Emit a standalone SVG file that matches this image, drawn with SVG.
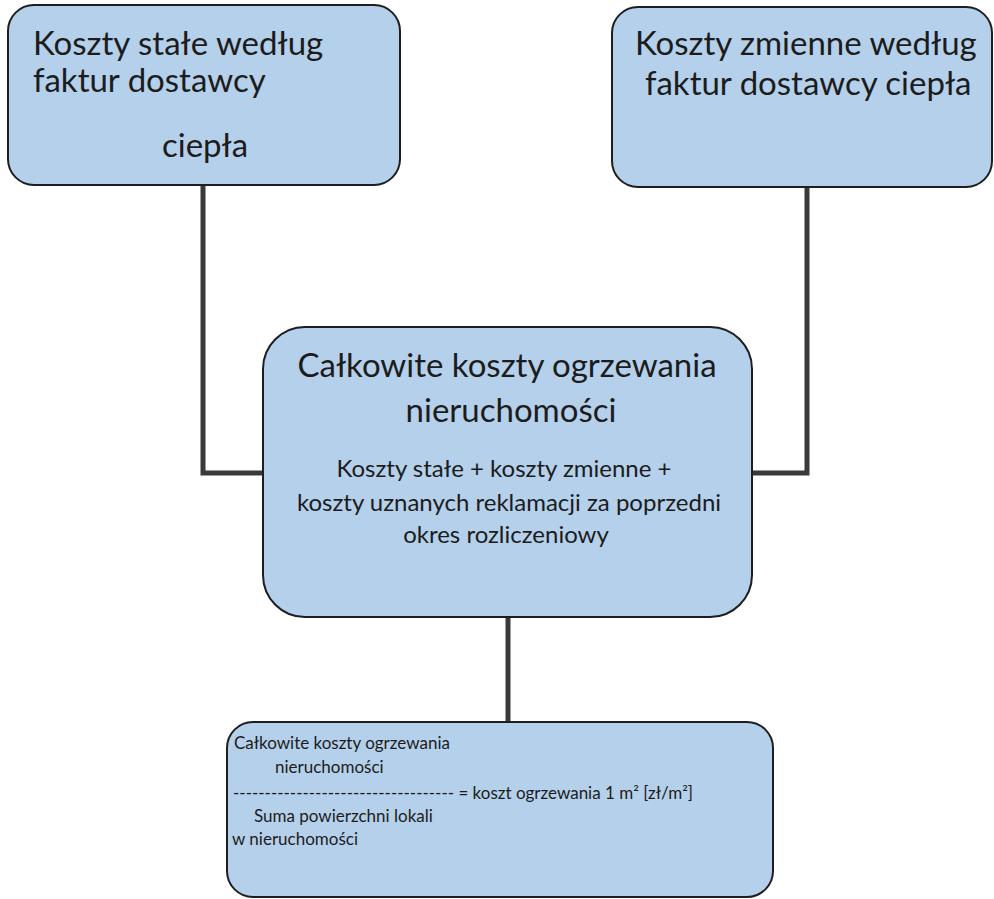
<svg xmlns="http://www.w3.org/2000/svg" width="994" height="899" viewBox="0 0 994 899">
<style>
.box{fill:#b5d0ea;stroke:#1e1e1e;stroke-width:2}
.conn{fill:none;stroke:#3a3a3a;stroke-width:5;stroke-linejoin:miter}
text{font-family:Lato,"Open Sans","Liberation Sans",sans-serif;fill:#1c1c1c}
.big{font-size:33px}
.title{font-size:33px}
.sub{font-size:24px}
.small{font-size:17px}
</style>
<rect width="994" height="899" fill="#ffffff"/>
<g id="connectors">
<polyline class="conn" points="203,185 203,473 264,473"/>
<polyline class="conn" points="807,187 807,473 751,473"/>
<line class="conn" x1="508" y1="617" x2="508" y2="723"/>
</g>
<g id="node-fixed">
<rect class="box" x="8" y="5" width="392" height="180" rx="26" ry="26"/>
<text class="big" x="33" y="55">Koszty stałe według</text>
<text class="big" x="33" y="92">faktur dostawcy</text>
<text class="big" x="162" y="157">ciepła</text>
</g>
<g id="node-variable">
<rect class="box" x="612" y="7" width="380" height="180" rx="26" ry="26"/>
<text class="big" x="635" y="55">Koszty zmienne według</text>
<text class="big" x="645" y="95">faktur dostawcy ciepła</text>
</g>
<g id="node-total">
<rect class="box" x="263" y="327" width="489" height="290" rx="42" ry="42"/>
<text class="title" x="507" y="377" text-anchor="middle">Całkowite koszty ogrzewania</text>
<text class="title" x="511" y="422" text-anchor="middle">nieruchomości</text>
<text class="sub" x="504" y="477" text-anchor="middle">Koszty stałe + koszty zmienne +</text>
<text class="sub" x="509" y="511" text-anchor="middle">koszty uznanych reklamacji za poprzedni</text>
<text class="sub" x="506" y="543" text-anchor="middle">okres rozliczeniowy</text>
</g>
<g id="node-unit">
<rect class="box" x="227" y="722" width="546" height="175" rx="26" ry="26"/>
<text class="small" x="234" y="749">Całkowite koszty ogrzewania</text>
<text class="small" x="275" y="773">nieruchomości</text>
<text class="small" x="233" y="799">----------------------------------- = koszt ogrzewania 1 m² [zł/m²]</text>
<text class="small" x="254" y="822">Suma powierzchni lokali</text>
<text class="small" x="232" y="845">w nieruchomości</text>
</g>
</svg>
